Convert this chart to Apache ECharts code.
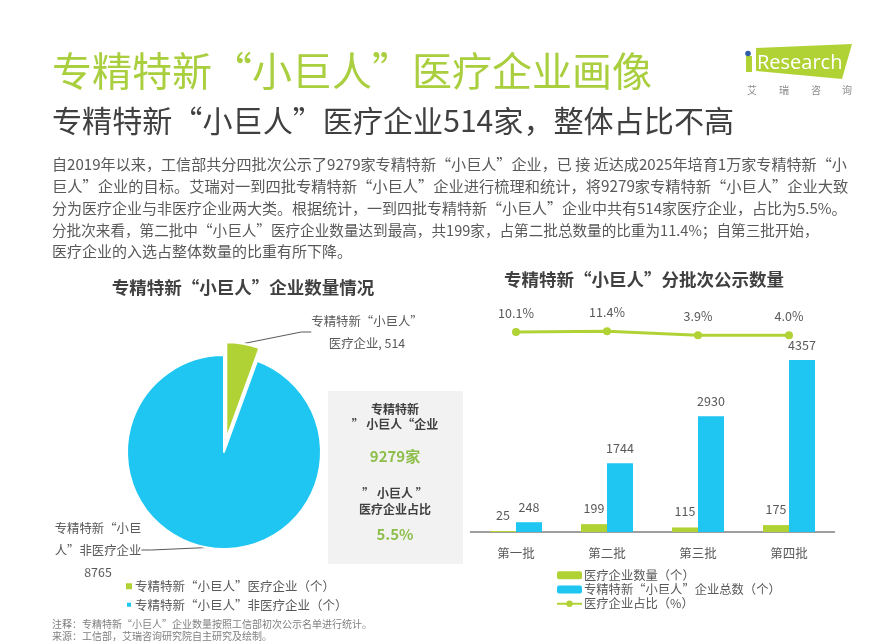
<!DOCTYPE html>
<html>
<head>
<meta charset="utf-8">
<style>
  html, body { margin: 0; padding: 0; background: #fff; }
  #main { width: 894px; height: 644px; }
</style>
<script src="https://cdn.jsdelivr.net/npm/echarts@6/dist/echarts.min.js"></script>
</head>
<body>
<div id="main"></div>
<script>
const batches = ['第一批', '第二批', '第三批', '第四批'];
const medicalCounts = [25, 199, 115, 175];
const totalCounts = [248, 1744, 2930, 4357];
const medicalShares = [10.1, 11.4, 3.9, 4.0];

const pieNames = ['专精特新“小巨人”医疗企业（个）', '专精特新“小巨人”非医疗企业（个）'];
const pieValues = [514, 8765];
const pieLabels = ['专精特新“小巨人”\n医疗企业, 514', '专精特新“小巨\n人”非医疗企业\n8765'];

const barLegend = ['医疗企业数量（个）', '专精特新“小巨人”企业总数（个）', '医疗企业占比（%）'];

const paragraph = [
  '自2019年以来，工信部共分四批次公示了9279家专精特新“小巨人”企业，已 接 近达成2025年培育1万家专精特新“小',
  '巨人”企业的目标。艾瑞对一到四批专精特新“小巨人”企业进行梳理和统计，将9279家专精特新“小巨人”企业大致',
  '分为医疗企业与非医疗企业两大类。根据统计，一到四批专精特新“小巨人”企业中共有514家医疗企业，占比为5.5%。',
  '分批次来看，第二批中“小巨人”医疗企业数量达到最高，共199家，占第二批总数量的比重为11.4%；自第三批开始，',
  '医疗企业的入选占整体数量的比重有所下降。'
];
const paragraphY = [164, 186, 208, 230, 251];
const paragraphSize = [15.1, 15.25, 15, 14.6, 15];

const GREEN = '#B1D235';
const BLUE = '#1FC6F2';
const TEXT = '#595959';
const FONT = '"Noto Sans CJK SC", sans-serif';

function label(text, x, y, size, color, opts) {
  const o = opts || {};
  return {
    type: 'text',
    x: x,
    y: y,
    z: 5,
    style: {
      text: text,
      fill: color,
      font: (o.weight || 'normal') + ' ' + size + 'px ' + FONT,
      align: o.align || 'left',
      verticalAlign: 'middle'
    }
  };
}

const graphics = [
  label('专精特新“小巨人”医疗企业画像', 52, 71, 40, '#A9CE3E'),
  label('专精特新“小巨人”医疗企业514家，整体占比不高', 52, 121, 30.1, '#404040'),
  label('专精特新“小巨人”企业数量情况', 243, 287, 17.5, '#404040', { weight: 'bold', align: 'center' }),
  label('专精特新“小巨人”分批次公示数量', 644, 279, 17.5, '#404040', { weight: 'bold', align: 'center' }),

  // 灰色信息框
  { type: 'rect', shape: { x: 328, y: 391, width: 135, height: 173 }, style: { fill: '#F2F2F2' }, z: 1 },
  label('专精特新', 395, 409, 12, '#404040', { weight: 'bold', align: 'center' }),
  label('” 小巨人“企业', 395, 424, 12, '#404040', { weight: 'bold', align: 'center' }),
  label('9279家', 395, 456, 15, '#8DBE4A', { weight: 'bold', align: 'center' }),
  label('” 小巨人 ”', 395, 493, 12, '#404040', { weight: 'bold', align: 'center' }),
  label('医疗企业占比', 395, 509, 12, '#404040', { weight: 'bold', align: 'center' }),
  label('5.5%', 395, 534, 15, '#8DBE4A', { weight: 'bold', align: 'center' }),

  label('注释：专精特新“小巨人”企业数量按照工信部初次公示名单进行统计。', 52, 624, 10, '#7F7F7F'),
  label('来源：工信部，艾瑞咨询研究院自主研究及绘制。', 52, 636, 10, '#7F7F7F'),

  // logo
  { type: 'polygon', shape: { points: [[756, 48], [852, 44], [842, 79], [756, 71]] }, style: { fill: '#B1D235' }, z: 2 },
  { type: 'rect', shape: { x: 746, y: 56, width: 6, height: 16 }, style: { fill: '#B1D235' }, z: 2 },
  { type: 'circle', shape: { cx: 748, cy: 53.5, r: 2.8 }, style: { fill: '#2F5FA8' }, z: 2 },
  {
    type: 'text', x: 757, y: 63, z: 3,
    style: { text: 'Research', fill: '#fff', font: '20px "Open Sans", sans-serif', verticalAlign: 'middle' }
  },
  label('艾', 752, 90, 10, '#8C8C8C', { align: 'center' }),
  label('瑞', 784, 90, 10, '#8C8C8C', { align: 'center' }),
  label('咨', 816, 90, 10, '#8C8C8C', { align: 'center' }),
  label('询', 847, 90, 10, '#8C8C8C', { align: 'center' })
];

paragraph.forEach(function (line, i) {
  graphics.push(label(line, 52, paragraphY[i], paragraphSize[i], TEXT));
});

// 两个同值饼图，只显示各自一块，绿色那块圆心外移形成分离效果
function pieSeries(center, shownIndex, labelPos) {
  return {
    type: 'pie',
    center: center,
    radius: ['0%', 97],
    startAngle: 90,
    silent: true,
    label: {
      color: TEXT,
      fontSize: 12.4,
      lineHeight: 22,
      align: 'center',
      formatter: function (p) { return pieLabels[p.dataIndex]; }
    },
    labelLine: { show: true, length: 10, length2: 10, lineStyle: { color: '#595959', width: 1 } },
    labelLayout: labelPos,
    data: pieNames.map(function (name, i) {
      const shown = i === shownIndex;
      return {
        name: name,
        value: pieValues[i],
        itemStyle: {
          color: shown ? (i === 0 ? GREEN : BLUE) : 'transparent',
          borderColor: shown ? '#fff' : 'transparent',
          borderWidth: shown ? 2 : 0
        },
        label: { show: shown },
        labelLine: { show: shown }
      };
    })
  };
}

const chart = echarts.init(document.getElementById('main'));

chart.setOption({
  animation: false,
  backgroundColor: '#fff',
  textStyle: { fontFamily: FONT },
  graphic: graphics,
  legend: [
    {
      data: [
        { name: pieNames[0], itemStyle: { color: GREEN } },
        { name: pieNames[1], itemStyle: { color: BLUE } }
      ],
      orient: 'vertical',
      left: 120,
      top: 575,
      icon: 'rect',
      itemWidth: 6,
      itemHeight: 6,
      itemGap: 6,
      selectedMode: false,
      textStyle: { color: TEXT, fontSize: 12.5, padding: [0, 0, 0, -2] }
    },
    {
      data: barLegend,
      orient: 'vertical',
      left: 551,
      top: 564,
      itemWidth: 25,
      itemHeight: 8,
      itemGap: 2,
      selectedMode: false,
      textStyle: { color: TEXT, fontSize: 12.3, padding: [0, 0, 0, -3] }
    }
  ],
  grid: { left: 470.5, width: 364, top: 300, height: 232 },
  xAxis: {
    type: 'category',
    data: batches,
    axisTick: { show: false },
    axisLine: { lineStyle: { color: '#7F7F7F', width: 1.5 } },
    axisLabel: { color: TEXT, fontSize: 12.5, margin: 15 }
  },
  yAxis: [
    { type: 'value', min: 0, max: 5877, show: false },
    { type: 'value', min: -365, max: 70, show: false }
  ],
  series: [
    pieSeries([224, 452], 1, function () {
      return { x: 98, y: 550, align: 'center', verticalAlign: 'middle' };
    }),
    pieSeries([226.3, 439.2], 0, function () {
      return { x: 367, y: 332, align: 'center', verticalAlign: 'middle' };
    }),
    {
      name: barLegend[0],
      type: 'bar',
      barWidth: 26,
      barGap: 0,
      itemStyle: { color: GREEN },
      label: { show: true, position: 'top', distance: 10, color: TEXT, fontSize: 12.5 },
      data: medicalCounts
    },
    {
      name: barLegend[1],
      type: 'bar',
      barWidth: 26,
      itemStyle: { color: BLUE },
      label: { show: true, position: 'top', distance: 9, color: TEXT, fontSize: 12.5 },
      data: totalCounts
    },
    {
      name: barLegend[2],
      type: 'line',
      yAxisIndex: 1,
      symbol: 'circle',
      symbolSize: 8,
      lineStyle: { color: GREEN, width: 3 },
      itemStyle: { color: GREEN },
      label: {
        show: true,
        position: 'top',
        distance: 8.5,
        color: TEXT,
        fontSize: 12.5,
        formatter: function (p) { return p.value.toFixed(1) + '%'; }
      },
      data: medicalShares
    }
  ]
});
</script>
</body>
</html>
